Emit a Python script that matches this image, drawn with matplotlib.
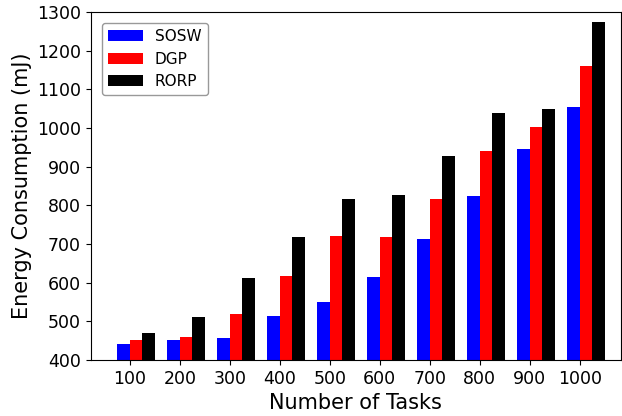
from matplotlib import pyplot as plt
import numpy as np

tasks = ['100', '200', '300', '400', '500', '600', '700', '800', '900', '1000']
sosw = [441, 452, 457, 514, 550, 615, 713, 824, 946, 1054]
dgp = [452, 459, 519, 617, 721, 718, 816, 940, 1002, 1160]
rorp = [470, 511, 612, 718, 816, 827, 927, 1039, 1049, 1274]

x = np.arange(len(tasks))
w = 0.25

fig, ax = plt.subplots(figsize=(6.22, 4.16), dpi=100)
ax.bar(x - w, sosw, w, align='edge', color='blue', label='SOSW')
ax.bar(x, dgp, w, align='edge', color='red', label='DGP')
ax.bar(x + w, rorp, w, align='edge', color='black', label='RORP')

ax.set_xticks(x)
ax.set_xticklabels(tasks, fontsize=12.5)
ax.tick_params(axis='y', labelsize=12.5)
ax.set_ylim(400, 1300)
ax.set_xlim(-0.78, 9.82)
ax.set_xlabel('Number of Tasks', fontsize=15)
ax.set_ylabel('Energy Consumption (mJ)', fontsize=15)
leg = ax.legend(loc='upper left', fontsize=11, handlelength=2.3, borderaxespad=0.7)
leg.get_frame().set_edgecolor('0.5')

plt.subplots_adjust(left=0.146, right=0.998, top=0.971, bottom=0.135)
plt.savefig('out.png')
